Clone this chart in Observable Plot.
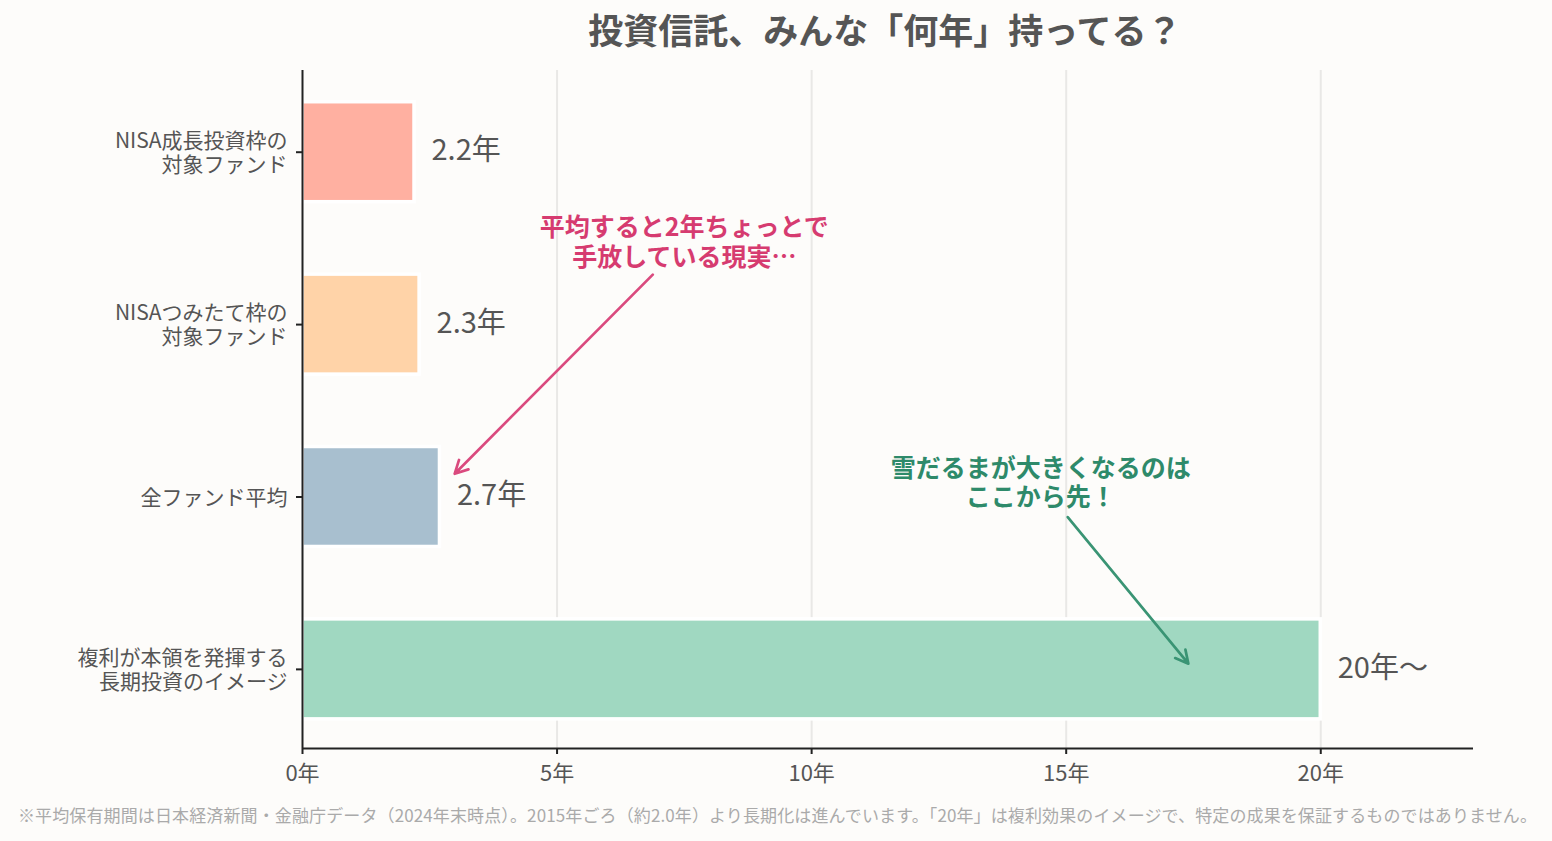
<!DOCTYPE html>
<html lang="ja">
<head>
<meta charset="utf-8">
<script src="https://cdn.jsdelivr.net/npm/d3@7"></script>
<script src="https://cdn.jsdelivr.net/npm/@observablehq/plot@0.6"></script>
<style>
  html, body { margin: 0; padding: 0; background: #fdfcfa; }
  body { width: 1552px; font-family: "Noto Sans CJK JP", "Noto Sans", sans-serif; }
  #title {
    height: 56px; line-height: 57px; margin-left: 302px; width: 1166px;
    text-align: center; font-size: 35px; font-weight: 700; color: #555;
  }
  #chart svg { display: block; }
  #note {
    height: 50px; line-height: 50px; padding-left: 18px;
    font-size: 17px; letter-spacing: 0.12px; color: #aaa; white-space: nowrap;
  }
</style>
</head>
<body>
<div id="title">投資信託、みんな「何年」持ってる？</div>
<div id="chart"></div>
<div id="note">※平均保有期間は日本経済新聞・金融庁データ（2024年末時点）。2015年ごろ（約2.0年）より長期化は進んでいます。「20年」は複利効果のイメージで、特定の成果を保証するものではありません。</div>
<script>
// Holding periods (years) by fund category
const categories = [
  "NISA成長投資枠の\n対象ファンド",
  "NISAつみたて枠の\n対象ファンド",
  "全ファンド平均",
  "複利が本領を発揮する\n長期投資のイメージ"
];
const years = [2.2, 2.3, 2.7, 20];
const yearSuffix = ["年", "年", "年", "年～"];
const barColors = ["#ffb0a1", "#ffd3a8", "#a8bfcf", "#a0d8c1"];
const xTicks = [0, 5, 10, 15, 20];

// Callouts: text, anchor position (x in years, y in row index), arrow endpoints
const calloutText = ["平均すると2年ちょっとで\n手放している現実…", "雪だるまが大きくなるのは\nここから先！"];
const calloutX = [7.5, 14.5];
const calloutY = [0.52, 1.915];
const calloutLineHeight = [1.2, 1.14];
const calloutColor = ["#d63b70", "#2e8a6a"];
const arrowColor = ["#da4a7e", "#3a9474"];
const arrowFrom = [[6.88, 0.71], [15.03, 2.117]];
const arrowTo = [[2.99, 1.865], [17.4, 2.967]];

const rows = categories.map((category, i) => ({
  category, index: i, years: years[i], label: years[i] + yearSuffix[i]
}));

const yTop = -0.474, yBottom = 3.459;

const callouts = calloutText.map((text, i) => Plot.text([text], {
  x: calloutX[i], y: calloutY[i], text: d => d,
  fill: calloutColor[i], fontSize: 25, fontWeight: 700, lineHeight: calloutLineHeight[i],
  textAnchor: "middle"
}));
const arrows = arrowFrom.map((from, i) => Plot.arrow([0], {
  x1: from[0], y1: from[1], x2: arrowTo[i][0], y2: arrowTo[i][1],
  stroke: arrowColor[i], strokeWidth: 2.7, headLength: 8, headAngle: 55,
  strokeLinecap: "round"
}));

const chart = Plot.plot({
  width: 1552,
  height: 734,
  marginLeft: 302,
  marginRight: 79,
  marginTop: 14,
  marginBottom: 42,
  style: { fontFamily: "'Noto Sans CJK JP', 'Noto Sans', sans-serif", background: "transparent", overflow: "visible" },
  x: { domain: [0, 23], label: null },
  y: { domain: [yTop, yBottom], reverse: true, label: null },
  color: { domain: categories, range: barColors },
  marks: [
    Plot.gridX(xTicks.slice(1), { stroke: "#e9e8e6", strokeOpacity: 1, strokeWidth: 2 }),
    Plot.rectX(rows, {
      x1: 0, x2: "years",
      y1: d => d.index - 0.29, y2: d => d.index + 0.29,
      fill: "category", stroke: "white", strokeWidth: 3.5
    }),
    Plot.ruleX([0], { stroke: "#222", strokeWidth: 2 }),
    Plot.ruleY([yBottom], { stroke: "#222", strokeWidth: 2 }),
    Plot.axisY({
      ticks: [0, 1, 2, 3], tickFormat: i => categories[i],
      tickSize: 6, tickPadding: 9, fontSize: 21, lineHeight: 1.15,
      stroke: "#222", fill: "#555", strokeWidth: 2
    }),
    Plot.axisX({
      ticks: xTicks, tickFormat: d => d + "年",
      tickSize: 6, tickPadding: 11, fontSize: 22,
      stroke: "#222", fill: "#555", strokeWidth: 2
    }),
    Plot.text(rows, {
      x: "years", y: "index", text: "label",
      dx: 17, dy: -1, textAnchor: "start", fontSize: 29, fill: "#555"
    }),
    ...callouts,
    ...arrows
  ]
});
document.getElementById("chart").append(chart);
</script>
</body>
</html>
